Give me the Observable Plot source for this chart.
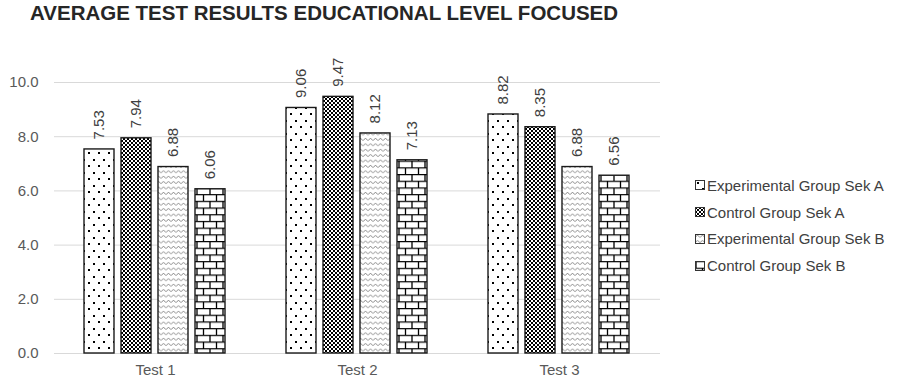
<!DOCTYPE html>
<html>
<head>
<meta charset="utf-8">
<script src="https://cdn.jsdelivr.net/npm/d3@7"></script>
<script src="https://cdn.jsdelivr.net/npm/@observablehq/plot@0.6"></script>
<style>
  html, body { margin: 0; padding: 0; background: #fff; }
  #wrap { position: relative; width: 897px; height: 382px; font-family: "Liberation Sans", Arial, sans-serif; }
  #title { position: absolute; left: 30px; top: 1px; font-size: 20.5px; font-weight: bold; color: #262626; line-height: 24px; white-space: nowrap; }
  #chart { position: absolute; left: 0; top: 40px; }
  #legend { position: absolute; left: 695px; top: 172px; font-size: 15px; color: #404040; }
  .li { display: flex; align-items: center; height: 26.8px; white-space: nowrap; }
  .li svg { margin-right: 2px; }
  #defs { position: absolute; width: 0; height: 0; }
</style>
</head>
<body>
<svg id="defs" width="0" height="0">
  <defs>
    <pattern id="pDots" patternUnits="userSpaceOnUse" width="10" height="13">
      <rect width="10" height="13" fill="#fff"/>
      <rect x="2" y="2" width="2" height="2" fill="#000" shape-rendering="crispEdges"/>
      <rect x="7" y="8" width="2" height="2" fill="#000" shape-rendering="crispEdges"/>
    </pattern>
    <pattern id="pCheck" patternUnits="userSpaceOnUse" width="4" height="4">
      <rect width="4" height="4" fill="#fff"/>
      <rect x="0" y="0" width="2" height="2" fill="#000" shape-rendering="crispEdges"/>
      <rect x="2" y="2" width="2" height="2" fill="#000" shape-rendering="crispEdges"/>
    </pattern>
    <pattern id="pZig" patternUnits="userSpaceOnUse" width="5" height="5.4">
      <rect width="5" height="5.4" fill="#fff"/>
      <path d="M0,3.4 L2.5,1 L5,3.4" fill="none" stroke="#7a7a7a" stroke-width="0.9"/>
    </pattern>
    <pattern id="pBrick" patternUnits="userSpaceOnUse" width="13" height="13.4">
      <rect width="13" height="13.4" fill="#fff"/>
      <path d="M0,0.6 H13 M0,7.3 H13 M1,0.6 V7.3 M7.5,7.3 V13.4" fill="none" stroke="#000" stroke-width="1.3"/>
    </pattern>
  </defs>
</svg>
<div id="wrap">
  <div id="title">AVERAGE TEST RESULTS EDUCATIONAL LEVEL FOCUSED</div>
  <div id="chart"></div>
  <div id="legend"></div>
</div>
<script>
const tests = ["Test 1", "Test 2", "Test 3"];
const series = ["Experimental Group Sek A", "Control Group Sek A", "Experimental Group Sek B", "Control Group Sek B"];
const expA = [7.53, 9.06, 8.82];
const ctrlA = [7.94, 9.47, 8.35];
const expB = [6.88, 8.12, 6.88];
const ctrlB = [6.06, 7.13, 6.56];
const yTicks = [0, 2, 4, 6, 8, 10];
const patterns = ["url(#pDots)", "url(#pCheck)", "url(#pZig)", "url(#pBrick)"];

const valuesBySeries = [expA, ctrlA, expB, ctrlB];
const data = [];
tests.forEach((t, i) => {
  series.forEach((s, j) => {
    data.push({test: t, series: s, value: valuesBySeries[j][i], pat: patterns[j]});
  });
});

const chart = Plot.plot({
  width: 897,
  height: 342,
  marginLeft: 53,
  marginRight: 236,
  marginTop: 42,
  marginBottom: 29,
  style: {fontFamily: "Liberation Sans, Arial, sans-serif", fontSize: "15px", color: "#595959", background: "transparent"},
  fx: {domain: tests, padding: 0, label: null, axis: "bottom", tickSize: 0, tickPadding: 11},
  x: {domain: series, axis: null, paddingInner: 0.189, paddingOuter: 0.824},
  y: {domain: [0, 10], ticks: yTicks, tickFormat: d => d.toFixed(1), tickSize: 0, tickPadding: 16, grid: false, label: null},
  color: {type: "identity"},
  marks: [
    Plot.ruleY(yTicks, {y: d => d, stroke: "#d9d9d9", strokeWidth: 1}),
    Plot.barY(data, {fx: "test", x: "series", y: "value", fill: "pat", stroke: "#1a1a1a", strokeWidth: 1.4}),
    Plot.text(data, {fx: "test", x: "series", y: "value", text: d => d.value.toFixed(2), rotate: -90, textAnchor: "start", dy: -10, fill: "#404040", fontSize: 15})
  ]
});
document.getElementById("chart").appendChild(chart);

const legend = document.getElementById("legend");
series.forEach((s, j) => {
  const row = document.createElement("div");
  row.className = "li";
  row.innerHTML = `<svg width="10" height="10"><rect x="0.5" y="0.5" width="9" height="9" fill="${patterns[j]}" stroke="#333" stroke-width="1"/></svg><span>${s}</span>`;
  legend.appendChild(row);
});
</script>
</body>
</html>
